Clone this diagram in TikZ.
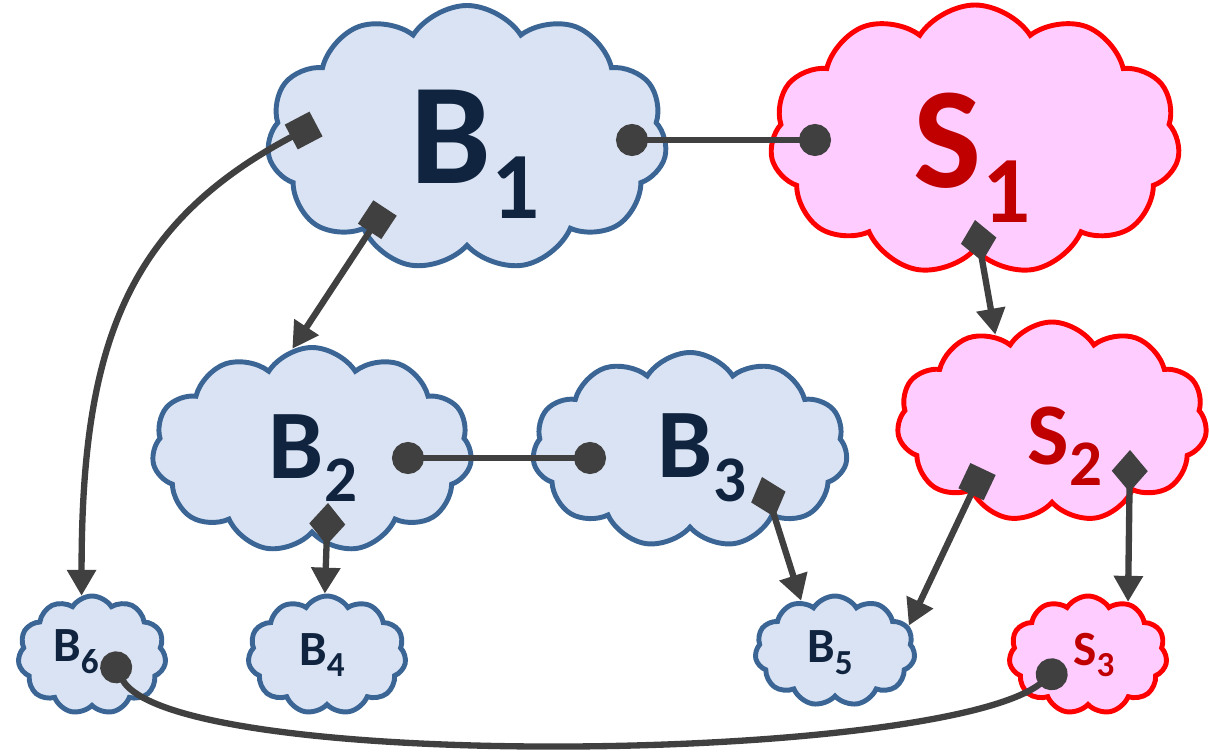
\documentclass[tikz,border=0pt]{standalone}
\usepackage{fontspec}
\usetikzlibrary{shapes.symbols,arrows.meta}
\newfontfamily\lblfont{Carlito}[BoldFont={Carlito Bold}]
\definecolor{bfill}{HTML}{DAE3F3}
\definecolor{bline}{HTML}{3A6595}
\definecolor{btxt}{HTML}{10243F}
\definecolor{sfill}{HTML}{FFCCFF}
\definecolor{sline}{HTML}{FF0000}
\definecolor{stxt}{HTML}{C00000}
\definecolor{cgray}{HTML}{404040}
% label with a lowered index: size, index size, letter, index
\newcommand{\cl}[4]{{\fontsize{#1}{#1}\selectfont\bfseries #3\raisebox{-.24em}{\fontsize{#2}{#2}\selectfont #4}}}
\tikzset{
  bcloud/.style={cloud, cloud puffs=11, cloud puff arc=115, cloud ignores aspect,
    draw=bline, fill=bfill, line width=1.4pt, inner sep=0pt},
  scloud/.style={bcloud, draw=sline, fill=sfill},
  btext/.style={text=btxt, font=\lblfont, inner sep=0pt},
  stext/.style={text=stxt, font=\lblfont, inner sep=0pt},
  conn/.style={cgray, line width=1.8pt},
  dots/.style={{Circle[length=3.2mm]}-{Circle[length=3.2mm]}},
  sqarr/.style={{Square[length=2.8mm,width=2.8mm]}-{Triangle[length=2.6mm,width=2.8mm]}},
  diaarr/.style={{Diamond[length=4.2mm,width=3.6mm]}-{Triangle[length=2.6mm,width=2.8mm]}},
}
\begin{document}
\begin{tikzpicture}[x=0.1mm,y=-0.1mm]
\useasboundingbox (0,0) rectangle (1209,753);

% clouds
\node[bcloud, minimum width=40mm, minimum height=26.5mm] (B1) at (467,138) {};
\node[scloud, minimum width=41mm, minimum height=27mm] (S1) at (975,140) {};
\node[bcloud, minimum width=32mm, minimum height=20.5mm] (B2) at (312,450) {};
\node[bcloud, minimum width=31.5mm, minimum height=19.5mm] (B3) at (690,450) {};
\node[scloud, minimum width=31mm, minimum height=20mm] (S2) at (1052,422) {};
\node[bcloud, minimum width=14.8mm, minimum height=11.8mm] (B6) at (92,655) {};
\node[bcloud, minimum width=15.8mm, minimum height=11.8mm] (B4) at (327,655) {};
\node[bcloud, minimum width=16mm, minimum height=11mm] (B5) at (835,651) {};
\node[scloud, minimum width=15.8mm, minimum height=11.8mm] (S3) at (1088,655) {};

% labels
\node[btext] (B1t) at (475,154) {\cl{41}{27}{B}{1}};
\node[stext] (S1t) at (972,158) {\cl{41}{27}{S}{1}};
\node[btext] (B2t) at (313,458) {\cl{28}{18.5}{B}{2}};
\node[btext] (B3t) at (702,458) {\cl{28}{18.5}{B}{3}};
\node[stext] (S2t) at (1065,446) {\cl{25}{18.5}{S}{2}};
\node[btext] (B6t) at (76,652) {\cl{14}{10}{B}{6}};
\node[btext] (B4t) at (322,655) {\cl{14}{10}{B}{4}};
\node[btext] (B5t) at (830,653) {\cl{14}{10}{B}{5}};
\node[stext] (S3t) at (1094,655) {\cl{14}{10}{S}{3}};

% ends of the connectors inside the clouds
\coordinate (b1e) at (616,140);
\coordinate (s1w) at (831,140);
\coordinate (b2e) at (392,458);
\coordinate (b3w) at (606,458);
\coordinate (b1w) at (316,124);
\coordinate (b1s) at (385,208);
\coordinate (s1s) at (975,220);
\coordinate (b2s) at (328,503);
\coordinate (b3s) at (762,477);
\coordinate (s2w) at (983,469);
\coordinate (s2e) at (1130,450);
\coordinate (b6c) at (109,653);
\coordinate (s3c) at (1064,664);

% connectors
\draw[conn, dots] (b1e) -- (s1w);
\draw[conn, dots] (b2e) -- (b3w);
\draw[conn, sqarr] (b1w) .. controls +(-190,100) and +(0,-250) .. (B6.100);
\draw[conn, sqarr] (b1s) -- (B2.101);
\draw[conn, diaarr] (s1s) -- (S2.123);
\draw[conn, diaarr] (b2s) -- (B4.92);
\draw[conn, diaarr] (b3s) -- (B5.124);
\draw[conn, sqarr] (s2w) -- (B5.19);
\draw[conn, diaarr] (s2e) -- (S3.53);
\draw[conn, dots] (b6c) .. controls +(60,120) and +(-120,100) .. (s3c);
\end{tikzpicture}
\end{document}
